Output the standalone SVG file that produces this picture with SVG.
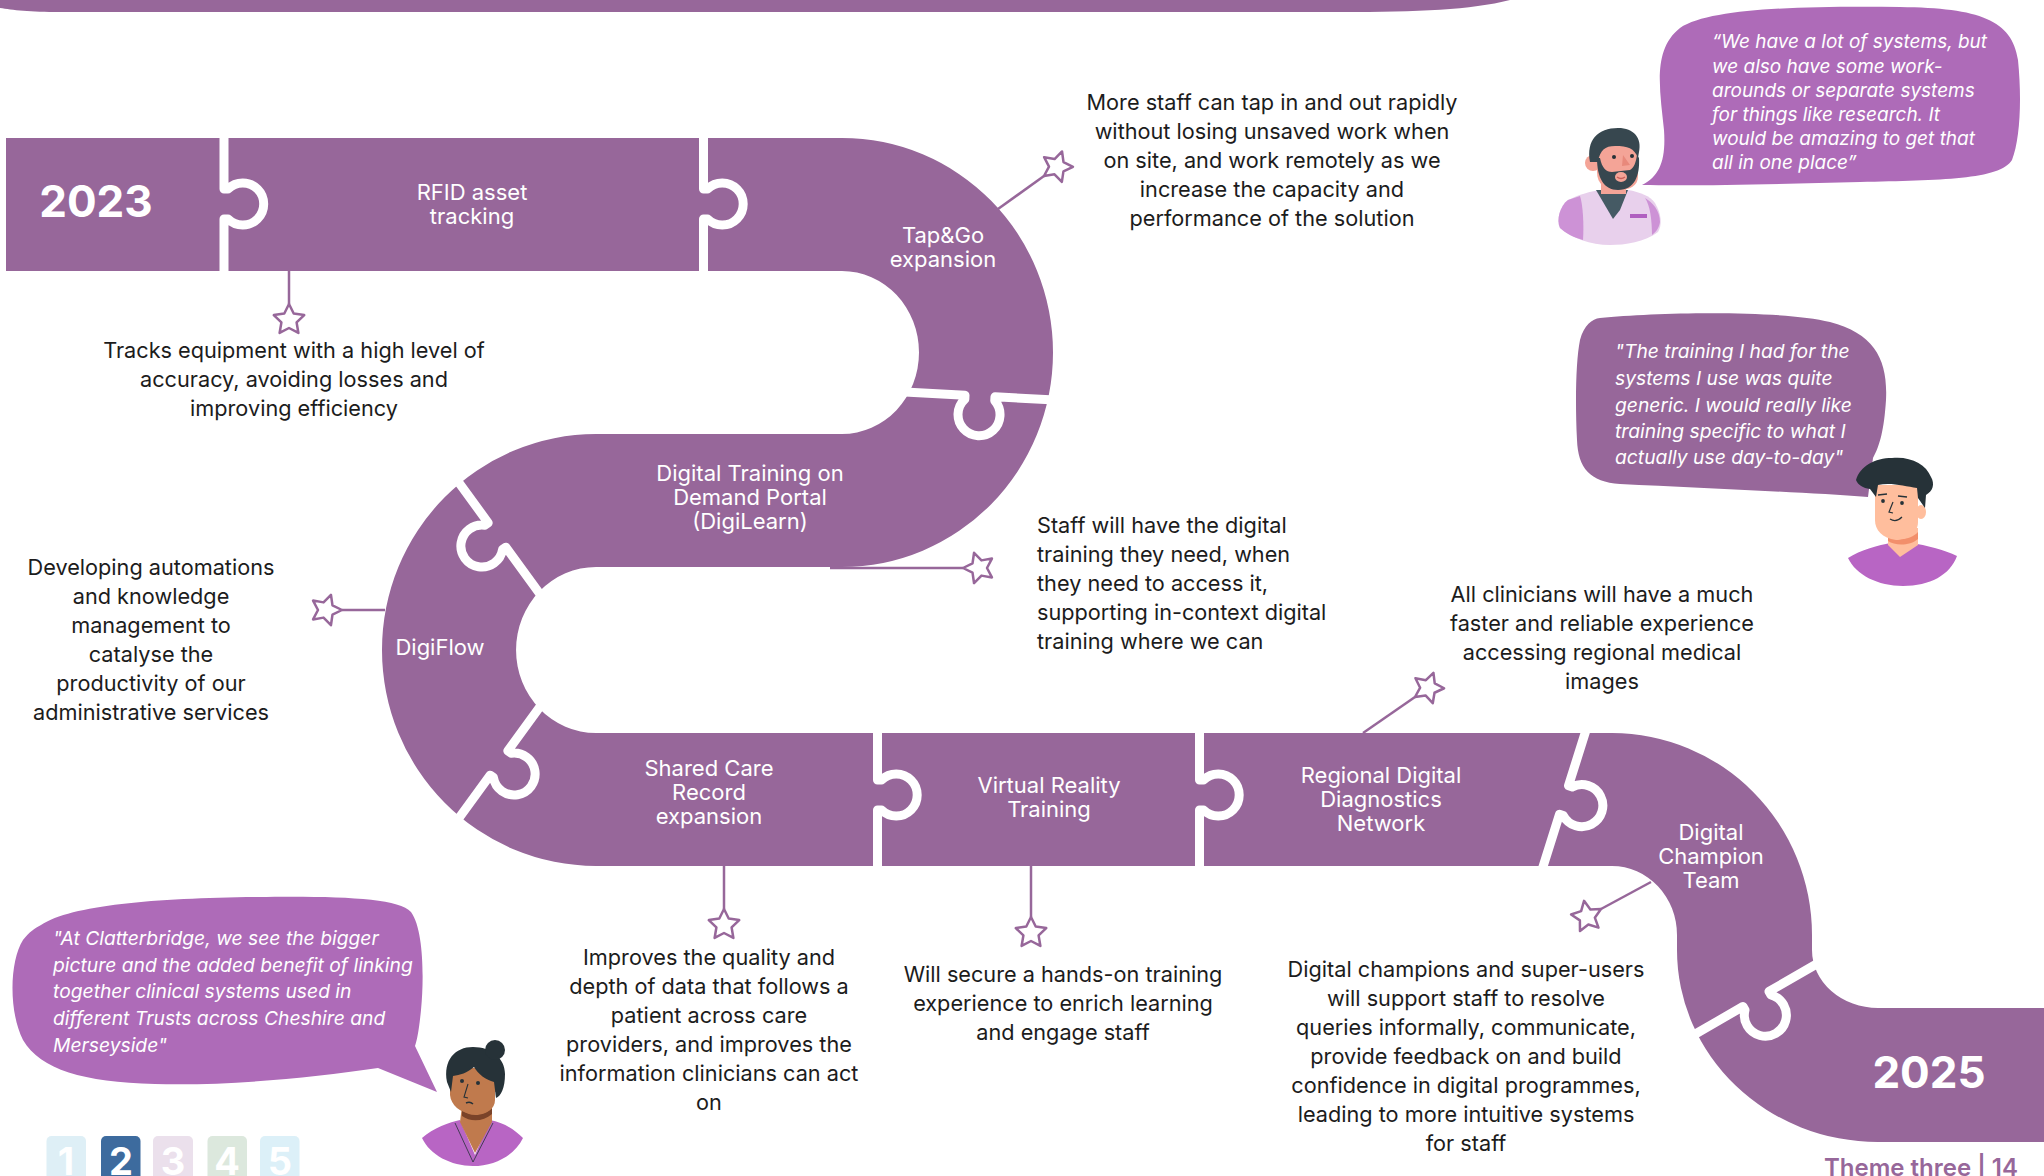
<svg xmlns="http://www.w3.org/2000/svg" width="2044" height="1176" viewBox="0 0 2044 1176">
  <style>
    .road { fill: #97679a; }
    .cut { fill: none; stroke: #ffffff; stroke-width: 9; stroke-linejoin: round; }
    .link { fill: none; stroke: #97679a; stroke-width: 2.5; }
    .label { font-family: Inter, "Liberation Sans", sans-serif; font-size: 22px; fill: #ffffff; text-anchor: middle; }
    .year { font-family: Inter, "Liberation Sans", sans-serif; font-size: 44px; font-weight: 700; fill: #ffffff; text-anchor: middle; }
    .desc { font-family: Inter, "Liberation Sans", sans-serif; font-size: 21.7px; fill: #1c1c1c; text-anchor: middle; }
    .quote { font-family: Inter, "Liberation Sans", sans-serif; font-size: 19.3px; font-style: italic; fill: #ffffff; }
    .tile { font-family: Inter, "Liberation Sans", sans-serif; font-size: 38px; font-weight: 700; fill: #ffffff; text-anchor: middle; }
    .hair { fill: #263238; }
  </style>
  <defs>
    <!-- hollow star, tip at the origin pointing back along the line -->
    <marker id="star" orient="auto" markerUnits="userSpaceOnUse" markerWidth="40" markerHeight="40" viewBox="-3 -20 40 40" refX="0" refY="0" overflow="visible">
      <polygon points="0,0 9.53,-4.7 11.06,-15.22 18.47,-7.61 28.94,-9.4 24,0 28.94,9.4 18.47,7.61 11.06,15.22 9.53,4.7" fill="#ffffff" stroke="#97679a" stroke-width="2.5" stroke-linejoin="round"/>
    </marker>
    <!-- puzzle joint: straight cut with a round tab bulging to +x -->
    <path id="joint" d="M0,-80 V-15 H4 A21 21 0 1 1 4,15 H0 V80"/>
  </defs>

  <!-- header band -->
  <path class="road" d="M0,0 H1510 C1470,10 1420,12 1340,12 L60,12 C30,12 12,10 0,8 Z"/>

  <!-- winding road -->
  <g id="road">
    <path class="road" d="M6,138 H842 A211 214.5 0 0 1 842,567 H596 A80 83 0 0 0 596,733 H1612 A200 202 0 0 1 1812,935 V950 A66 58 0 0 0 1878,1008 H2044 V1142 H1878 A201 192 0 0 1 1677,950 V935 A65 69 0 0 0 1612,866 H596 A214 216 0 0 1 596,434 H842 A77 81.5 0 0 0 842,271 H6 Z"/>
    <g class="cut">
      <use href="#joint" transform="translate(224,204)"/>
      <use href="#joint" transform="translate(703.5,204)"/>
      <use href="#joint" transform="translate(980,396) rotate(93)"/>
      <use href="#joint" transform="translate(497,535) rotate(144)"/>
      <use href="#joint" transform="translate(499,763) rotate(36)"/>
      <use href="#joint" transform="translate(877.5,795)"/>
      <use href="#joint" transform="translate(1199.5,795)"/>
      <use href="#joint" transform="translate(1564,800) rotate(17.5)"/>
      <use href="#joint" transform="translate(1756,999) rotate(60)"/>
    </g>
  </g>

  <!-- connectors from the road to each note -->
  <g id="connectors" class="link">
    <path d="M289,271 V304" marker-end="url(#star)"/>
    <path d="M998,209 L1044,176" marker-end="url(#star)"/>
    <path d="M830,568 H963" marker-end="url(#star)"/>
    <path d="M385,610 H342" marker-end="url(#star)"/>
    <path d="M724,866 V909" marker-end="url(#star)"/>
    <path d="M1031,866 V917" marker-end="url(#star)"/>
    <path d="M1363,733 L1415,697" marker-end="url(#star)"/>
    <path d="M1651,882 L1601,909" marker-end="url(#star)"/>
  </g>

  <g id="node-2023">
    <text class="year" x="96" y="217">2023</text>
  </g>

  <g id="node-rfid">
    <text class="label"><tspan x="472" y="200">RFID asset</tspan><tspan x="472" y="224">tracking</tspan></text>
    <text class="desc"><tspan x="294" y="358">Tracks equipment with a high level of</tspan><tspan x="294" y="387">accuracy, avoiding losses and</tspan><tspan x="294" y="416">improving efficiency</tspan></text>
  </g>

  <g id="node-tapgo">
    <text class="label"><tspan x="943" y="243">Tap&amp;Go</tspan><tspan x="943" y="267">expansion</tspan></text>
    <text class="desc"><tspan x="1272" y="110">More staff can tap in and out rapidly</tspan><tspan x="1272" y="139">without losing unsaved work when</tspan><tspan x="1272" y="168">on site, and work remotely as we</tspan><tspan x="1272" y="197">increase the capacity and</tspan><tspan x="1272" y="226">performance of the solution</tspan></text>
  </g>

  <g id="node-digilearn">
    <text class="label"><tspan x="750" y="481">Digital Training on</tspan><tspan x="750" y="505">Demand Portal</tspan><tspan x="750" y="529">(DigiLearn)</tspan></text>
    <text class="desc" style="text-anchor:start"><tspan x="1037" y="533">Staff will have the digital</tspan><tspan x="1037" y="562">training they need, when</tspan><tspan x="1037" y="591">they need to access it,</tspan><tspan x="1037" y="620">supporting in-context digital</tspan><tspan x="1037" y="649">training where we can</tspan></text>
  </g>

  <g id="node-digiflow">
    <text class="label" x="440" y="655">DigiFlow</text>
    <text class="desc"><tspan x="151" y="575">Developing automations</tspan><tspan x="151" y="604">and knowledge</tspan><tspan x="151" y="633">management to</tspan><tspan x="151" y="662">catalyse the</tspan><tspan x="151" y="691">productivity of our</tspan><tspan x="151" y="720">administrative services</tspan></text>
  </g>

  <g id="node-sharedcare">
    <text class="label"><tspan x="709" y="776">Shared Care</tspan><tspan x="709" y="800">Record</tspan><tspan x="709" y="824">expansion</tspan></text>
    <text class="desc"><tspan x="709" y="965">Improves the quality and</tspan><tspan x="709" y="994">depth of data that follows a</tspan><tspan x="709" y="1023">patient across care</tspan><tspan x="709" y="1052">providers, and improves the</tspan><tspan x="709" y="1081">information clinicians can act</tspan><tspan x="709" y="1110">on</tspan></text>
  </g>

  <g id="node-vr">
    <text class="label"><tspan x="1049" y="793">Virtual Reality</tspan><tspan x="1049" y="817">Training</tspan></text>
    <text class="desc"><tspan x="1063" y="982">Will secure a hands-on training</tspan><tspan x="1063" y="1011">experience to enrich learning</tspan><tspan x="1063" y="1040">and engage staff</tspan></text>
  </g>

  <g id="node-rddn">
    <text class="label"><tspan x="1381" y="783">Regional Digital</tspan><tspan x="1381" y="807">Diagnostics</tspan><tspan x="1381" y="831">Network</tspan></text>
    <text class="desc"><tspan x="1602" y="602">All clinicians will have a much</tspan><tspan x="1602" y="631">faster and reliable experience</tspan><tspan x="1602" y="660">accessing regional medical</tspan><tspan x="1602" y="689">images</tspan></text>
  </g>

  <g id="node-champion">
    <text class="label"><tspan x="1711" y="840">Digital</tspan><tspan x="1711" y="864">Champion</tspan><tspan x="1711" y="888">Team</tspan></text>
    <text class="desc"><tspan x="1466" y="977">Digital champions and super-users</tspan><tspan x="1466" y="1006">will support staff to resolve</tspan><tspan x="1466" y="1035">queries informally, communicate,</tspan><tspan x="1466" y="1064">provide feedback on and build</tspan><tspan x="1466" y="1093">confidence in digital programmes,</tspan><tspan x="1466" y="1122">leading to more intuitive systems</tspan><tspan x="1466" y="1151">for staff</tspan></text>
  </g>

  <g id="node-2025">
    <text class="year" x="1929" y="1088">2025</text>
  </g>

  <!-- quote 1: bearded clinician, top right -->
  <g id="quote-systems">
    <path fill="#ae6bb8" d="M1642,185 C1660,176 1666,160 1664,130 C1660,90 1652,50 1680,28 C1710,8 1800,6 1900,7 C1980,8 2012,20 2018,60 C2022,100 2020,140 2012,160 C2000,180 1940,180 1860,182 C1780,184 1700,186 1642,185 Z"/>
    <text class="quote" style="font-size:19px"><tspan x="1712" y="48">“We have a lot of systems, but</tspan><tspan x="1712" y="73">we also have some work-</tspan><tspan x="1712" y="97">arounds or separate systems</tspan><tspan x="1712" y="121">for things like research. It</tspan><tspan x="1712" y="145">would be amazing to get that</tspan><tspan x="1712" y="169">all in one place”</tspan></text>
    <g>
      <path fill="#e8d0ec" d="M1568,200 C1580,194 1592,191 1600,190 L1628,190 C1640,192 1650,196 1655,203 C1662,215 1662,225 1658,232 C1645,242 1625,245 1610,245 C1590,245 1572,238 1560,228 C1556,220 1560,206 1568,200 Z"/>
      <path fill="#cd92d6" d="M1568,200 C1560,206 1556,220 1560,228 C1565,233 1575,238 1583,240 C1584,225 1583,205 1580,196 Z"/>
      <path fill="#cd92d6" d="M1645,198 C1652,202 1660,210 1660,222 C1659,228 1656,232 1652,235 C1652,220 1650,205 1645,198 Z"/>
      <path fill="#455a64" d="M1596,190 L1628,190 L1620,210 L1613,219 Z"/>
      <rect x="1630" y="214" width="17" height="4" fill="#b05fc0"/>
      <rect x="1601" y="176" width="25" height="18" fill="#f4a497"/>
      <path fill="#f4a497" d="M1597,150 C1597,140 1606,138 1618,138 C1632,138 1638,142 1638,152 L1638,176 C1638,186 1630,190 1618,190 C1605,190 1597,184 1597,172 Z"/>
      <circle cx="1593" cy="163" r="8" fill="#f4a497"/>
      <path fill="#37474f" d="M1590,162 C1586,140 1598,128 1618,128 C1634,128 1642,138 1639,152 L1638,158 C1634,148 1628,146 1615,146 C1605,146 1600,150 1598,162 Z"/>
      <path fill="#37474f" d="M1597,158 L1600,158 C1602,168 1606,172 1612,172 L1630,170 C1634,168 1636,162 1637,155 L1639,158 C1640,175 1635,190 1618,190 C1604,190 1597,178 1597,158 Z"/>
      <ellipse cx="1621" cy="177" rx="6" ry="5" fill="#f4a497"/>
      <path d="M1617,177 Q1621,180 1625,177" fill="none" stroke="#c9605a" stroke-width="1.5"/>
      <circle cx="1614" cy="157" r="2" fill="#263238"/>
      <circle cx="1632" cy="156" r="2" fill="#263238"/>
      <path fill="#e8897b" d="M1623,155 L1630,165 L1622,166 Z"/>
    </g>
  </g>

  <!-- quote 2: training, right -->
  <g id="quote-training">
    <path fill="#97679a" d="M1600,318 C1660,312 1780,310 1830,322 C1875,334 1888,360 1886,400 C1884,430 1880,445 1873,458 L1868,497 C1800,492 1700,488 1620,484 C1590,482 1578,468 1577,440 C1575,400 1576,360 1580,340 C1584,325 1592,319 1600,318 Z"/>
    <text class="quote"><tspan x="1615" y="358">"The training I had for the</tspan><tspan x="1615" y="385">systems I use was quite</tspan><tspan x="1615" y="412">generic. I would really like</tspan><tspan x="1615" y="438">training specific to what I</tspan><tspan x="1615" y="464">actually use day-to-day"</tspan></text>
    <g>
      <path fill="#b865c4" d="M1848,558 C1860,550 1880,545 1890,543 L1900,556 L1912,543 C1925,545 1945,550 1957,556 C1950,575 1930,586 1903,586 C1878,586 1856,575 1848,558 Z"/>
      <path fill="#ffbe9d" d="M1888,528 L1918,528 L1918,545 L1900,557 L1888,545 Z"/>
      <path fill="#f28f6b" d="M1888,534 C1895,541 1910,541 1918,532 L1918,539 C1910,546 1895,546 1888,541 Z"/>
      <ellipse cx="1921" cy="512" rx="5" ry="7" fill="#ffbe9d"/>
      <path fill="#ffbe9d" d="M1875,485 L1918,485 L1918,522 C1918,534 1906,540 1896,540 C1882,538 1875,530 1875,520 Z"/>
      <path class="hair" d="M1856,480 C1860,466 1875,458 1892,458 C1910,456 1926,464 1931,477 C1935,484 1933,491 1926,495 L1925,508 L1918,498 L1917,488 C1905,486 1890,482 1878,485 L1876,497 L1870,489 C1863,488 1858,485 1856,480 Z"/>
      <circle cx="1883" cy="501" r="1.9" fill="#263238"/>
      <circle cx="1902" cy="503" r="1.9" fill="#263238"/>
      <path d="M1878,495 L1887,494 M1898,496 L1907,497" stroke="#263238" stroke-width="1.6" fill="none"/>
      <path d="M1893,502 L1889,512 L1893,513" stroke="#263238" stroke-width="1.2" fill="none"/>
      <path d="M1890,519 Q1896,523 1902,517" stroke="#263238" stroke-width="1.2" fill="none"/>
    </g>
  </g>

  <!-- quote 3: Clatterbridge, bottom left -->
  <g id="quote-clatterbridge">
    <path fill="#ae6bb8" d="M41,925 C72,905 155,898 258,897 C341,896 398,898 411,912 C424,930 424,980 421,1010 C419,1030 417,1040 415,1046 L437,1092 L378,1068 C310,1078 227,1086 155,1084 C83,1082 41,1070 23,1040 C8,1010 10,960 23,940 C29,932 35,928 41,925 Z"/>
    <text class="quote"><tspan x="53" y="945">"At Clatterbridge, we see the bigger</tspan><tspan x="53" y="972">picture and the added benefit of linking</tspan><tspan x="53" y="998">together clinical systems used in</tspan><tspan x="53" y="1025">different Trusts across Cheshire and</tspan><tspan x="53" y="1052">Merseyside"</tspan></text>
    <g transform="translate(15,0)">
      <path fill="#b865c4" d="M407,1138 C418,1128 435,1122 445,1120 L460,1155 L475,1120 C488,1122 500,1130 508,1138 C500,1155 480,1166 458,1166 C436,1166 415,1155 407,1138 Z"/>
      <path d="M440,1123 L458,1162 L478,1123" fill="none" stroke="#263238" stroke-width="0.8"/>
      <path fill="#c07a4d" d="M447,1106 L477,1106 L477,1122 L460,1153 L445,1122 Z"/>
      <path fill="#7a4329" d="M447,1110 C455,1118 470,1116 477,1108 L477,1114 C468,1122 455,1122 447,1116 Z"/>
      <path fill="#c07a4d" d="M435,1068 L480,1068 L480,1100 C480,1110 470,1115 458,1114 C445,1113 436,1105 435,1095 Z"/>
      <circle cx="481" cy="1088" r="4" fill="#c07a4d"/>
      <circle cx="482" cy="1095" r="1.6" fill="none" stroke="#eeeeee" stroke-width="0.8"/>
      <path class="hair" d="M432,1082 C428,1060 440,1047 458,1047 C476,1047 490,1058 490,1074 C490,1088 486,1096 481,1098 L479,1082 C471,1080 463,1074 459,1067 C452,1073 445,1075 438,1076 L436,1092 Z"/>
      <circle class="hair" cx="480" cy="1050" r="10"/>
      <circle cx="447" cy="1081" r="2" fill="#263238"/>
      <circle cx="463" cy="1083" r="2" fill="#263238"/>
      <path d="M453,1084 L449,1097 L453,1098" stroke="#263238" stroke-width="1.1" fill="none"/>
      <path d="M451,1103 Q455,1101 458,1104" stroke="#263238" stroke-width="1.4" fill="none"/>
    </g>
  </g>

  <!-- section tabs -->
  <g id="section-tabs">
    <rect x="46.5" y="1136" width="39.5" height="50" rx="5" fill="#deeff6"/>
    <rect x="101" y="1136" width="39.5" height="50" rx="5" fill="#3d6b9e"/>
    <rect x="153" y="1136" width="40" height="50" rx="5" fill="#ebe0ec"/>
    <rect x="207.5" y="1136" width="39.5" height="50" rx="5" fill="#dce8dd"/>
    <rect x="260" y="1136" width="39.5" height="50" rx="5" fill="#dcf0f8"/>
    <text class="tile" x="66" y="1175">1</text>
    <text class="tile" x="121" y="1175">2</text>
    <text class="tile" x="173" y="1175">3</text>
    <text class="tile" x="227" y="1175">4</text>
    <text class="tile" x="280" y="1175">5</text>
  </g>

  <text x="2018" y="1176" style="font-family:Inter, 'Liberation Sans', sans-serif; font-size:24px; font-weight:600; fill:#97679a; text-anchor:end">Theme three | 14</text>
</svg>
